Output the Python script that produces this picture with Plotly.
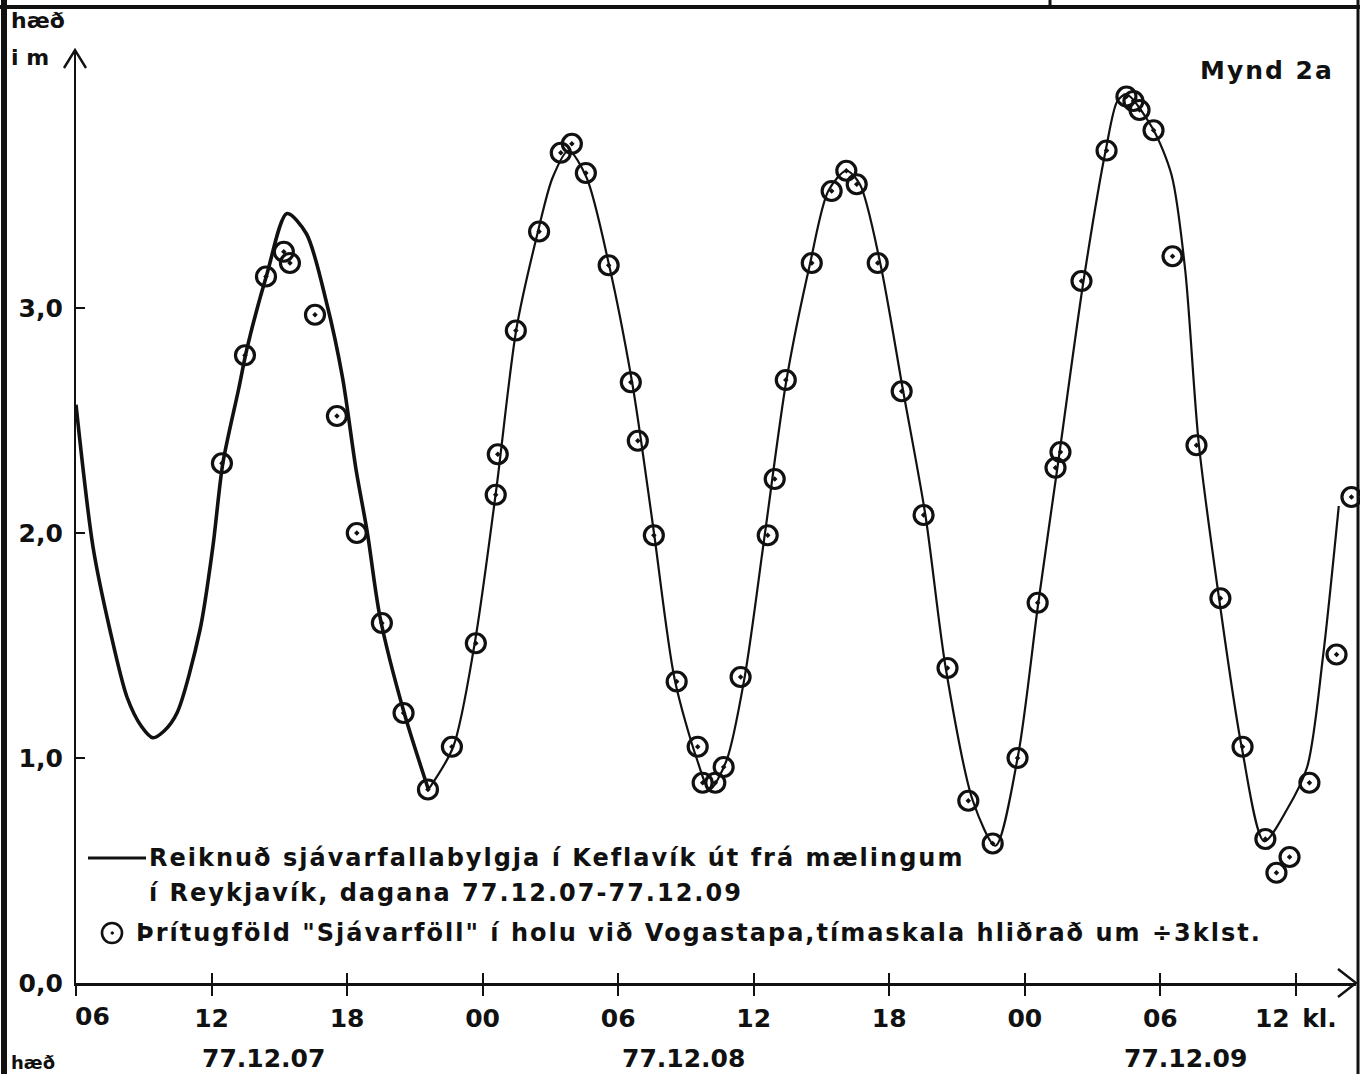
import plotly.graph_objects as go

# ---------------- data (hours after 06:00 on 77.12.07, height in m) ----------------
meas_hours = [6.46, 7.48, 8.41, 9.20, 9.47, 10.58, 11.55, 12.43, 13.54, 14.50,
              15.58, 16.64, 17.70, 18.58, 18.67, 19.47, 20.50, 21.46, 21.95, 22.57,
              23.58, 24.56, 24.87, 25.58, 26.59, 27.52, 27.74, 28.30, 28.67, 29.42,
              30.62, 30.93, 31.42, 32.57, 33.45, 34.10, 34.56, 35.49, 36.55, 37.52,
              38.58, 39.50, 40.58, 41.68, 42.57, 43.36, 43.58, 44.51, 45.62, 46.50,
              46.81, 47.08, 47.70, 48.54, 49.60, 50.66, 51.64, 52.65, 53.14, 53.72,
              54.60, 55.80, 56.46]
meas_height = [2.31, 2.79, 3.14, 3.25, 3.20, 2.97, 2.52, 2.00, 1.60, 1.20,
               0.86, 1.05, 1.51, 2.17, 2.35, 2.90, 3.34, 3.69, 3.73, 3.60,
               3.19, 2.67, 2.41, 1.99, 1.34, 1.05, 0.89, 0.89, 0.96, 1.36,
               1.99, 2.24, 2.68, 3.20, 3.52, 3.61, 3.55, 3.20, 2.63, 2.08,
               1.40, 0.81, 0.62, 1.00, 1.69, 2.29, 2.36, 3.12, 3.70, 3.94,
               3.92, 3.88, 3.79, 3.23, 2.39, 1.71, 1.05, 0.64, 0.49, 0.56,
               0.89, 1.46, 2.16]

# computed tide curve, first (heavier drawn) part
curve1_hours = [0.0, 0.75, 1.5, 2.26, 2.9, 3.4, 3.9, 4.47, 5.49, 6.06, 6.5, 7.2,
                7.57, 8.45, 9.34, 10.2, 11.1, 11.8, 12.4, 12.9, 13.45, 14.5, 15.6]
curve1_height = [2.57, 1.94, 1.57, 1.27, 1.14, 1.09, 1.12, 1.20, 1.57, 1.94, 2.31, 2.64,
                 2.82, 3.15, 3.42, 3.33, 3.02, 2.69, 2.28, 2.00, 1.63, 1.21, 0.86]
# computed tide curve, remaining part
curve2_hours = [15.6, 16.7, 17.65, 18.6, 19.5, 20.45, 21.1, 21.8, 22.6, 23.6,
                24.6, 25.0, 25.6, 26.5, 27.5, 28.05, 28.8, 29.6, 30.5, 31.45,
                32.5, 33.3, 34.1, 34.7, 35.6, 36.6, 37.6, 38.5, 39.7, 40.7,
                41.7, 42.6, 43.5, 44.6, 45.6, 46.1, 46.5, 47.65, 48.5, 49.1,
                49.7, 50.6, 51.6, 52.6, 53.6, 54.5, 55.2, 55.9]
curve2_height = [0.86, 1.05, 1.51, 2.19, 2.91, 3.34, 3.58, 3.70, 3.58, 3.19,
                 2.68, 2.42, 1.99, 1.35, 0.99, 0.86, 0.99, 1.36, 2.00, 2.68,
                 3.20, 3.52, 3.61, 3.55, 3.20, 2.64, 2.08, 1.40, 0.81, 0.61,
                 1.01, 1.69, 2.33, 3.12, 3.71, 3.92, 3.95, 3.80, 3.59, 3.17,
                 2.40, 1.71, 1.05, 0.63, 0.77, 0.96, 1.45, 2.12]

x_tickvals = [0, 6, 12, 18, 24, 30, 36, 42, 48, 54]
x_ticktext = ["", "12", "18", "00", "06", "12", "18", "00", "06", "12\u2002kl."]
y_tickvals = [0, 1, 2, 3]
y_ticktext = ["0,0", "1,0", "2,0", "3,0"]
date_labels = ["77.12.07", "77.12.08", "77.12.09"]
date_label_hours = [8.3, 26.9, 49.1]

legend_line1 = "Reiknuð sjávarfallabylgja í Keflavík út frá mælingum"
legend_line2 = "í Reykjavík, dagana 77.12.07-77.12.09"
legend_line3 = "Þrítugföld \"Sjávarföll\" í holu við Vogastapa,tímaskala hliðrað um ÷3klst."

# ---------------- layout geometry (pixels) ----------------
FW, FH = 1360, 1074
L, T = 76, 50
W, H = 1280, 933
PX_PER_H = 22.59
PX_PER_M = 225.0


def pxx(x):
    return (x - L) / W


def pxy(y):
    return (T + H - y) / H


FONT = "DejaVu Sans"
BLACK = "#111111"


def spaced(s, ls):
    return f'<span style="letter-spacing:{ls}px">{s}</span>'


fig = go.Figure()

fig.add_trace(go.Scatter(x=curve1_hours, y=curve1_height, mode="lines",
                         line=dict(color=BLACK, width=3.6, shape="spline", smoothing=0.8),
                         showlegend=False, cliponaxis=False, hoverinfo="skip"))
fig.add_trace(go.Scatter(x=curve2_hours, y=curve2_height, mode="lines",
                         line=dict(color=BLACK, width=2.2, shape="spline", smoothing=0.8),
                         showlegend=False, cliponaxis=False, hoverinfo="skip"))
fig.add_trace(go.Scatter(x=meas_hours, y=meas_height, mode="markers",
                         marker=dict(symbol="circle-open-dot", size=19, color=BLACK,
                                     line=dict(color=BLACK, width=3.2)),
                         showlegend=False, cliponaxis=False))

xmax = W / PX_PER_H
ymax = H / PX_PER_M

fig.update_layout(
    width=FW, height=FH,
    margin=dict(l=L, r=FW - L - W, t=T, b=FH - T - H, pad=0),
    paper_bgcolor="white", plot_bgcolor="white",
    showlegend=False,
    font=dict(family=FONT, color=BLACK),
    xaxis=dict(range=[0, xmax], tickvals=x_tickvals, ticktext=x_ticktext,
               ticks="outside", ticklen=10, tickwidth=2.2, tickcolor=BLACK,
               showline=True, linecolor=BLACK, linewidth=2.6, showgrid=False,
               zeroline=False, ticklabelstandoff=1,
               tickfont=dict(family=FONT, size=25, weight="bold", color=BLACK)),
    xaxis2=dict(range=[0, xmax], overlaying="x", anchor="y", side="bottom",
                tickvals=x_tickvals, ticks="inside", ticklen=10, tickwidth=2.2,
                tickcolor=BLACK, showticklabels=False, showline=False,
                showgrid=False, zeroline=False),
    yaxis=dict(range=[0, ymax], tickvals=y_tickvals, ticktext=y_ticktext,
               ticks="inside", ticklen=9, tickwidth=2.2, tickcolor=BLACK,
               showline=True, linecolor=BLACK, linewidth=2.2, showgrid=False,
               zeroline=False, ticklabelstandoff=6,
               tickfont=dict(family=FONT, size=25, weight="bold", color=BLACK)),
)

# dummy trace so the inside-tick overlay axis is drawn
fig.add_trace(go.Scatter(x=[0], y=[0], xaxis="x2", mode="markers",
                         marker=dict(opacity=0), showlegend=False, hoverinfo="skip"))

shapes = []
# axis arrowheads
shapes.append(dict(type="path", xref="paper", yref="paper",
                   path=f"M {pxx(64)},{pxy(68)} L {pxx(75)},{pxy(50)} L {pxx(86)},{pxy(68)}",
                   line=dict(color=BLACK, width=2.4)))
shapes.append(dict(type="path", xref="paper", yref="paper",
                   path=f"M {pxx(1338)},{pxy(969)} L {pxx(1356)},{pxy(983)} L {pxx(1338)},{pxy(997)}",
                   line=dict(color=BLACK, width=2.4)))
# page frame
shapes.append(dict(type="line", xref="paper", yref="paper", x0=pxx(4), x1=pxx(4),
                   y0=pxy(0), y1=pxy(FH), line=dict(color=BLACK, width=6)))
shapes.append(dict(type="line", xref="paper", yref="paper", x0=pxx(0), x1=pxx(FW),
                   y0=pxy(7), y1=pxy(7), line=dict(color=BLACK, width=4)))
shapes.append(dict(type="line", xref="paper", yref="paper", x0=pxx(1358), x1=pxx(1358),
                   y0=pxy(0), y1=pxy(FH), line=dict(color=BLACK, width=3)))
shapes.append(dict(type="line", xref="paper", yref="paper", x0=pxx(1050), x1=pxx(1050),
                   y0=pxy(0), y1=pxy(9), line=dict(color=BLACK, width=3)))
# legend symbols
shapes.append(dict(type="line", xref="paper", yref="paper", x0=pxx(88), x1=pxx(146),
                   y0=pxy(858), y1=pxy(858), line=dict(color=BLACK, width=3)))
shapes.append(dict(type="circle", xref="paper", yref="paper",
                   x0=pxx(102), x1=pxx(122), y0=pxy(943), y1=pxy(923),
                   line=dict(color=BLACK, width=2.6)))
shapes.append(dict(type="circle", xref="paper", yref="paper",
                   x0=pxx(111), x1=pxx(113.5), y0=pxy(934.2), y1=pxy(931.8),
                   fillcolor=BLACK, line=dict(color=BLACK, width=1)))
fig.update_layout(shapes=shapes)

ann = []


def text(s, x, y, size=23, xanchor="left", xref="paper", ls=0):
    ann.append(dict(text=spaced(s, ls) if ls else s,
                    x=x if xref != "paper" else pxx(x), y=pxy(y),
                    xref=xref, yref="paper", xanchor=xanchor, yanchor="middle",
                    showarrow=False,
                    font=dict(family=FONT, size=size, weight="bold", color=BLACK)))


text("hæð", 9, 20, size=22)
text("i m", 9, 57, size=22)
text("Mynd 2a", 1336, 70, size=25, xanchor="right", ls=2)
text("06", 0.75, 1017, size=25, xanchor="center", xref="x")
for lab, hx in zip(date_labels, date_label_hours):
    text(lab, hx, 1058, size=25, xanchor="center", xref="x")
text(legend_line1, 147, 858, size=24, ls=2)
text(legend_line2, 147, 893, size=24, ls=2)
text(legend_line3, 134, 933, size=24, ls=2)
text("hæð", 9, 1062, size=18)
fig.update_layout(annotations=ann)

fig.write_html("out.html", config={"displayModeBar": False},
               post_script="document.body.style.margin='0';")
